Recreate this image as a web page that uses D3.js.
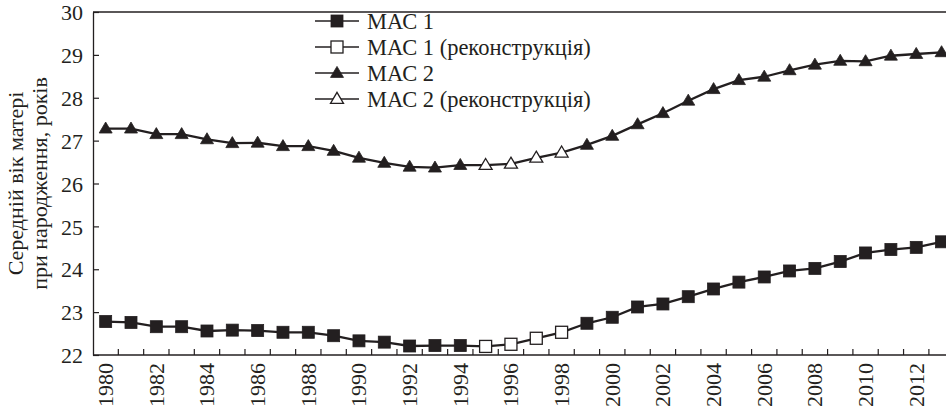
<!DOCTYPE html>
<html><head><meta charset="utf-8">
<script src="https://cdn.jsdelivr.net/npm/d3@7"></script>
<style>
html,body{margin:0;padding:0;background:#fff;overflow:hidden}
svg{display:block}
text{font-family:"Liberation Serif","Times New Roman",serif;fill:#231f20}
</style></head><body>
<svg id="chart" width="946" height="411"></svg>
<script>
const years = d3.range(1980, 2014);
const mac1 = [22.78,22.76,22.66,22.66,22.56,22.58,22.57,22.53,22.53,22.45,22.33,22.30,22.21,22.22,22.22,
              22.20,22.25,22.39,22.53,22.74,22.88,23.12,23.19,23.36,23.54,23.70,23.82,23.96,24.02,24.18,24.38,24.46,24.51,24.64];
const mac2 = [27.28,27.28,27.15,27.15,27.03,26.94,26.95,26.87,26.87,26.76,26.60,26.48,26.39,26.37,26.43,
              26.43,26.46,26.60,26.72,26.90,27.11,27.38,27.64,27.93,28.20,28.41,28.49,28.64,28.77,28.86,28.85,28.98,29.02,29.06];
const reconYears = [1995,1996,1997,1998];
const yTicks = [22,23,24,25,26,27,28,29,30];
const xTickLabels = d3.range(1980, 2013, 2);
const legendLabels = ["МАС 1","МАС 1 (реконструкція)","МАС 2","МАС 2 (реконструкція)"];
const yTitle = ["Середній вік матері","при народження, років"];

const ink = "#231f20";
const fs = 22;
const svg = d3.select("#chart");
const mLeft = 93, mTop = 12, mBottom = 355, band = 25.33;
const x = d3.scaleBand().domain(years).range([mLeft, mLeft + band*years.length]).padding(0);
const cx = d => x(d) + x.bandwidth()/2;
const y = d3.scaleLinear().domain([22,30]).range([mBottom, mTop]);

svg.append("line").attr("x1",mLeft).attr("x2",946).attr("y1",mTop).attr("y2",mTop).attr("stroke",ink).attr("stroke-width",1.3);

const yAxis = d3.axisLeft(y).tickValues(yTicks).tickFormat(d3.format("d")).tickSizeInner(-6).tickSizeOuter(0).tickPadding(10);
const gy = svg.append("g").attr("transform",`translate(${mLeft},0)`).call(yAxis);
gy.attr("font-family",null).attr("font-size",null);
gy.select(".domain").attr("stroke",ink).attr("stroke-width",1.3);
gy.selectAll(".tick line").attr("stroke",ink).attr("stroke-width",1.2);
gy.selectAll("text").attr("font-size",fs).attr("fill",ink).attr("dy","0.35em");

svg.append("line").attr("x1",mLeft).attr("x2",946).attr("y1",mBottom).attr("y2",mBottom).attr("stroke",ink).attr("stroke-width",1.3);
svg.append("g").selectAll("line").data(years.slice(1)).join("line")
  .attr("x1",d=>x(d)).attr("x2",d=>x(d)).attr("y1",mBottom).attr("y2",mBottom-6)
  .attr("stroke",ink).attr("stroke-width",1.2);
svg.append("g").selectAll("text").data(xTickLabels).join("text")
  .attr("transform",d=>`translate(${cx(d)+7.5},${mBottom+8}) rotate(-90)`)
  .attr("text-anchor","end").attr("font-size",fs).text(d=>d);

const yt = svg.append("text").attr("transform",`translate(0,${(mTop+mBottom)/2}) rotate(-90)`).attr("text-anchor","middle").attr("font-size",fs);
yt.append("tspan").attr("x",0).attr("y",23).text(yTitle[0]);
yt.append("tspan").attr("x",0).attr("y",47).text(yTitle[1]);

const line = d3.line().x((d,i)=>cx(years[i])).y(d=>y(d));
[mac1, mac2].forEach(s => {
  svg.append("path").datum(s).attr("d",line).attr("fill","none").attr("stroke",ink).attr("stroke-width",2.3);
});

const sq = 12, tri = 13;
function square(g, px, py, filled){
  g.append("rect").attr("x",px-sq/2).attr("y",py-sq/2).attr("width",sq).attr("height",sq)
    .attr("fill",filled?ink:"#fff").attr("stroke",ink).attr("stroke-width",filled?0.8:1.3);
}
function triangle(g, px, py, filled){
  const h = 11;
  g.append("path").attr("d",`M${px},${py-h*0.6}L${px+tri/2},${py+h*0.4}L${px-tri/2},${py+h*0.4}Z`)
    .attr("fill",filled?ink:"#fff").attr("stroke",ink).attr("stroke-width",filled?0.8:1.3);
}
const gm = svg.append("g");
years.forEach((yr,i)=>{
  const rec = reconYears.includes(yr);
  square(gm, cx(yr), y(mac1[i]), !rec);
  triangle(gm, cx(yr), y(mac2[i]), !rec);
});

const lg = svg.append("g");
const rowY = [21, 47, 73, 99];
legendLabels.forEach((lab,i)=>{
  const ly = rowY[i];
  lg.append("line").attr("x1",315).attr("x2",359).attr("y1",ly).attr("y2",ly).attr("stroke",ink).attr("stroke-width",1.5);
  const filled = (i%2===0);
  if(i<2) square(lg,337,ly,filled); else triangle(lg,337,ly,filled);
  lg.append("text").attr("x",367).attr("y",ly).attr("dy","0.35em").attr("font-size",22.5).text(lab);
});
</script></body></html>
